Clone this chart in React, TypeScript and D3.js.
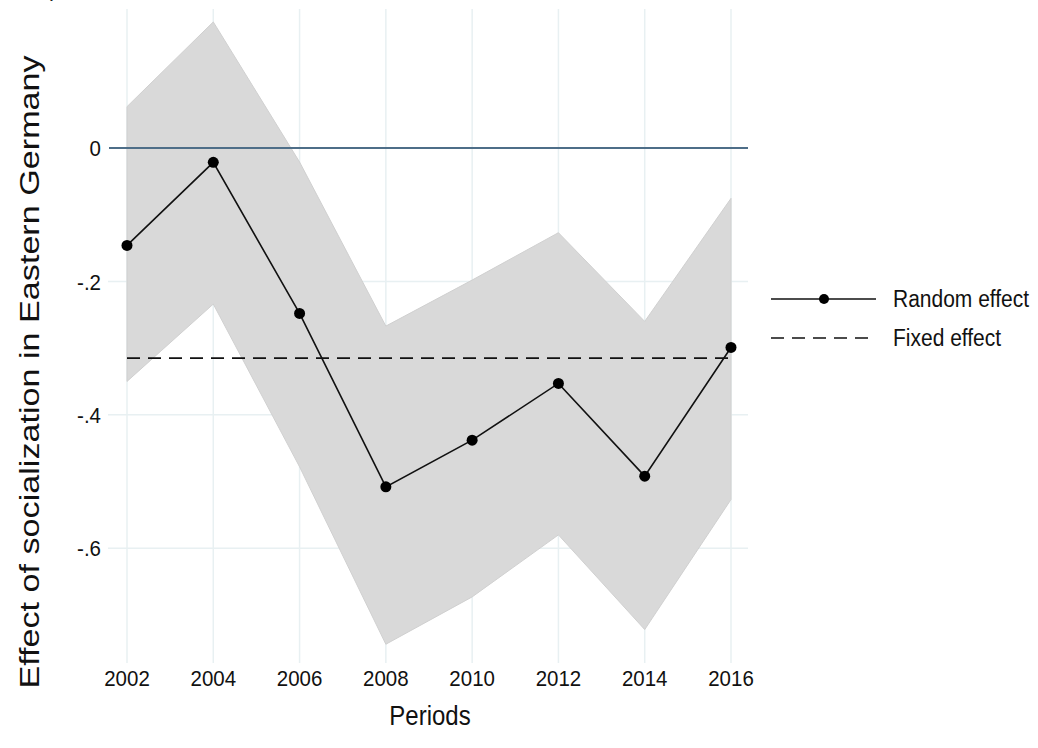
import React from "react";
import * as d3 from "d3";

const years = [2002, 2004, 2006, 2008, 2010, 2012, 2014, 2016];
const estimate = [-0.146, -0.0215, -0.248, -0.508, -0.438, -0.353, -0.492, -0.299];
const upper = [0.062, 0.189, -0.021, -0.267, -0.198, -0.127, -0.26, -0.0755];
const lower = [-0.35, -0.234, -0.478, -0.744, -0.673, -0.58, -0.722, -0.527];
const fixedEffect = -0.315;
const yTicks = [0, -0.2, -0.4, -0.6];
const yTickLabels = ["0", "-.2", "-.4", "-.6"];
const legendLabels = ["Random effect", "Fixed effect"];

const FONT = "'Liberation Sans', Arial, Helvetica, sans-serif";
const VS = 1.12; // vertical stretch of lettering seen in the reference

export default function App() {
  const W = 1038;
  const H = 748;
  const x = d3.scaleLinear().domain([2002, 2016]).range([127, 731]);
  const y = d3.scaleLinear().domain([0, -0.6]).range([148, 548.2]);

  const rows = years.map((yr, i) => ({ yr, est: estimate[i], lo: lower[i], hi: upper[i] }));
  const area = d3
    .area<any>()
    .x((d) => x(d.yr))
    .y0((d) => y(d.lo))
    .y1((d) => y(d.hi));
  const line = d3
    .line<any>()
    .x((d) => x(d.yr))
    .y((d) => y(d.est));

  const grid = "#e8f0f2";
  const T = (tx: number, ty: number) => `translate(${tx},${ty}) scale(1,${VS})`;
  return (
    <svg
      width={W}
      height={H}
      style={{ position: "absolute", left: 0, top: 0, background: "#fff" }}
      fontFamily={FONT}
    >
      <text x={49} y={-4} fontSize={22} fill="#222">p</text>
      {years.map((yr) => (
        <line key={yr} x1={x(yr)} x2={x(yr)} y1={9} y2={663} stroke={grid} strokeWidth={1.5} />
      ))}
      {yTicks.map((t) =>
        t === 0 ? null : (
          <line key={t} x1={108} x2={748} y1={y(t)} y2={y(t)} stroke={grid} strokeWidth={1.5} />
        )
      )}
      <path d={area(rows) || ""} fill="#d9d9d9" stroke="#d0d0d0" strokeWidth={1} />
      <line x1={109} x2={748} y1={y(0)} y2={y(0)} stroke="#4e6e88" strokeWidth={2} />
      <line
        x1={x(2002)}
        x2={x(2016)}
        y1={y(fixedEffect)}
        y2={y(fixedEffect)}
        stroke="#111"
        strokeWidth={1.6}
        strokeDasharray="13 8"
      />
      <path d={line(rows) || ""} fill="none" stroke="#111" strokeWidth={1.6} />
      {rows.map((d) => (
        <circle key={d.yr} cx={x(d.yr)} cy={y(d.est)} r={5.5} fill="#000" />
      ))}
      {yTicks.map((t, i) => (
        <text key={t} transform={T(101, y(t))} dy="0.36em" textAnchor="end" fontSize={20.5} fill="#111">
          {yTickLabels[i]}
        </text>
      ))}
      {years.map((yr) => (
        <text key={yr} transform={T(x(yr), 686)} textAnchor="middle" fontSize={20.5} fill="#111">
          {yr}
        </text>
      ))}
      <text transform={T(430, 725)} textAnchor="middle" fontSize={24} fill="#111">
        Periods
      </text>
      <text
        transform={`translate(39,372) rotate(-90) scale(1.22,1)`}
        textAnchor="middle"
        fontSize={28}
        fill="#111"
      >
        Effect of socialization in Eastern Germany
      </text>
      <line x1={771} x2={876} y1={299} y2={299} stroke="#111" strokeWidth={1.6} />
      <circle cx={824} cy={299} r={5} fill="#000" />
      <text transform={T(893, 299)} dy="0.36em" fontSize={21} fill="#111">
        {legendLabels[0]}
      </text>
      <line x1={771} x2={876} y1={338} y2={338} stroke="#111" strokeWidth={1.6} strokeDasharray="13 8" />
      <text transform={T(893, 338)} dy="0.36em" fontSize={21} fill="#111">
        {legendLabels[1]}
      </text>
    </svg>
  );
}
